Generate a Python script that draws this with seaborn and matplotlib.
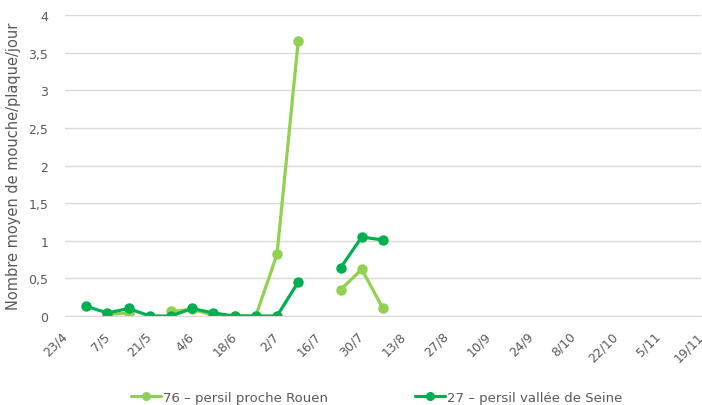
import seaborn as sns
import pandas as pd
import matplotlib.pyplot as plt
from matplotlib.lines import Line2D
import numpy as np

# weekly sampling dates (day/month)
dates = ['30/4', '7/5', '14/5', '21/5', '28/5', '4/6', '11/6', '18/6', '25/6',
         '2/7', '9/7', '16/7', '23/7', '30/7', '6/8']
rouen = [np.nan, 0.02, 0.04, np.nan, 0.06, 0.09, 0.01, 0.0, 0.0,
         0.82, 3.65, np.nan, 0.35, 0.62, 0.10]
seine = [0.13, 0.04, 0.10, 0.0, 0.0, 0.10, 0.04, 0.0, 0.0,
         0.0, 0.45, np.nan, 0.64, 1.05, 1.01]
label_rouen = '76 – persil proche Rouen'
label_seine = '27 – persil vallée de Seine'
col_rouen = '#92D050'
col_seine = '#00B050'

year = 2019
to_date = lambda s: pd.Timestamp(year, int(s.split('/')[1]), int(s.split('/')[0]))
df = pd.DataFrame({'date': [to_date(d) for d in dates], 'rouen': rouen, 'seine': seine})

sns.set_style('white')
plt.rcParams['font.family'] = ['DejaVu Sans']

fig = plt.figure(figsize=(7.02, 4.06), dpi=100)
ax = fig.add_axes([65 / 702, 1 - 317 / 406, 636 / 702, 301 / 406])

for col, c in [('rouen', col_rouen), ('seine', col_seine)]:
    # draw each contiguous run so missing weeks break the line
    s = df[['date', col]].copy()
    s['grp'] = s[col].isna().cumsum()
    s = s.dropna()
    for _, seg in s.groupby('grp'):
        sns.lineplot(data=seg, x='date', y=col, ax=ax, color=c, linewidth=2.3,
                     marker='o', markersize=7.5, markeredgewidth=0, legend=False)

start = pd.Timestamp(year, 4, 23)
end = pd.Timestamp(year, 11, 19)
ticks = pd.date_range(start, end, freq='14D')
ax.set_xlim(start, end)
ax.set_xticks(ticks)
ax.set_xticklabels([f'{t.day}/{t.month}' for t in ticks], rotation=45, ha='right', va='center',
                   rotation_mode='anchor', color='#595959', fontsize=9)
ax.tick_params(axis='x', length=0, pad=13)

ax.set_ylim(0, 4)
yt = np.arange(0, 4.01, 0.5)
ax.set_yticks(yt)
ax.set_yticklabels([f'{v:g}'.replace('.', ',') for v in yt], color='#595959', fontsize=9)
ax.tick_params(axis='y', length=0, pad=12)
ax.set_xlabel('')
ax.set_ylabel('Nombre moyen de mouche/plaque/jour', color='#595959', fontsize=10.5, labelpad=5)

ax.yaxis.grid(True, color='#D9D9D9', linewidth=1)
ax.xaxis.grid(False)
for side in ['top', 'right', 'left']:
    ax.spines[side].set_visible(False)
ax.spines['bottom'].set_color('#D9D9D9')

handles = [Line2D([], [], color=col_rouen, linewidth=2.3, marker='o', markersize=5.5),
           Line2D([], [], color=col_seine, linewidth=2.3, marker='o', markersize=5.5)]
leg = ax.legend(handles, [label_rouen, label_seine], loc='center', bbox_to_anchor=(0.49, -0.27),
                ncol=2, frameon=False, fontsize=9.5, handlelength=2.3, handletextpad=0.15,
                columnspacing=6.6)
for t in leg.get_texts():
    t.set_color('#595959')

fig.savefig('out.png', dpi=100)
